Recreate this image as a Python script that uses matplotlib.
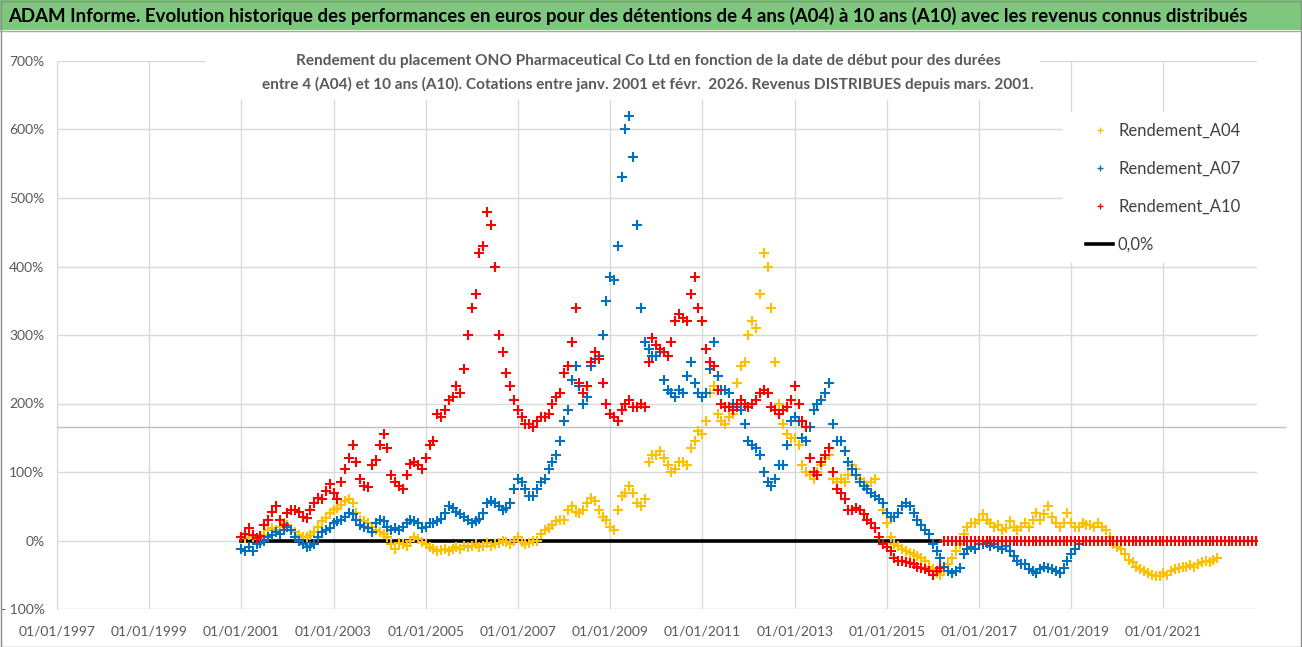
import numpy as np
import pandas as pd
import matplotlib
matplotlib.use('Agg')
import matplotlib.pyplot as plt
import matplotlib.dates as mdates
from matplotlib.lines import Line2D
from matplotlib.patches import Rectangle
from matplotlib.ticker import FuncFormatter, MultipleLocator

plt.rcParams['font.family'] = ['Lato', 'DejaVu Sans']

# monthly readings (%), first month = janv. 2001
a04 = [5, 3, 8, 5, 2, 5, 8, 15, 18, 15, 20, 25,
       22, 15, 12, 8, 5, 5, 8, 12, 20, 28, 33, 40,
       45, 48, 52, 58, 60, 55, 40, 30, 28, 25, 20, 15,
       12, 10, 5, -5, -12, -3, -5, -8, 0, 5, 2, -2,
       -5, -10, -13, -15, -14, -12, -15, -12, -10, -12, -8, -10,
       -8, -5, -10, -8, -3, -8, -5, -3, 0, -2, -5, 0,
       5, -2, -5, -3, 0, 0, 10, 15, 18, 22, 28, 30,
       30, 45, 50, 42, 40, 45, 55, 62, 58, 45, 35, 30,
       20, 15, 45, 65, 70, 80, 70, 55, 50, 60, 115, 125,
       125, 130, 120, 110, 100, 105, 115, 115, 110, 135, 145, 160,
       155, 175, 215, 225, 185, 175, 170, 180, 185, 230, 255, 260,
       300, 320, 310, 360, 420, 400, 340, 260, 200, 170, 155, 150,
       150, 140, 110, 100, 95, 90, 100, 110, 120, 125, 90, 85,
       90, 85, 95, 110, 105, 90, 85, 80, 85, 90, 60, 45,
       25, 5, -5, -8, -12, -15, -18, -20, -22, -25, -30, -38,
       -42, -48, -50, -45, -35, -25, -15, -5, 10, 20, 25, 25,
       30, 38, 30, 25, 20, 22, 15, 18, 28, 20, 15, 20,
       25, 20, 30, 40, 30, 38, 50, 35, 25, 20, 25, 40,
       25, 20, 20, 25, 22, 22, 20, 25, 20, 15, 5, -5,
       -10, -12, -20, -28, -32, -38, -42, -45, -48, -50, -52, -52,
       -48, -50, -45, -42, -40, -38, -38, -36, -38, -35, -32, -30,
       -32, -28, -25]

a07 = [-12, -15, -10, -15, -5, -3, 0, 5, 8, 12, 10, 15,
       20, 15, 5, 0, -5, -10, -8, -5, 5, 12, 15, 18,
       25, 28, 30, 35, 40, 38, 30, 22, 20, 18, 12, 25,
       30, 28, 20, 15, 18, 15, 20, 25, 30, 28, 25, 18,
       20, 25, 25, 28, 32, 40, 50, 48, 42, 38, 35, 30,
       25, 28, 32, 40, 55, 58, 55, 50, 45, 48, 55, 75,
       90, 85, 75, 65, 65, 75, 85, 90, 105, 115, 125, 145,
       175, 190, 235, 255, 225, 200, 210, 255, 265, 270, 300, 350,
       385, 380, 430, 530, 600, 620, 560, 460, 340, 290, 280, 270,
       270, 275, 235, 220, 215, 210, 220, 215, 240, 260, 230, 215,
       210, 215, 250, 290, 240, 220, 220, 215, 200, 195, 190, 170,
       145, 140, 135, 125, 100, 85, 80, 90, 110, 110, 140, 175,
       180, 175, 150, 145, 165, 190, 200, 205, 215, 230, 170, 145,
       145, 130, 115, 105, 95, 85, 80, 75, 70, 65, 60, 55,
       40, 35, 35, 40, 50, 55, 50, 40, 30, 22, 15, 10,
       -5, -15, -25, -38, -45, -48, -45, -40, -20, -12, -10, -12,
       -5, -5, -3, -8, -5, -10, -12, -8, -15, -22, -30, -35,
       -35, -42, -45, -47, -42, -38, -40, -42, -45, -48, -40, -30,
       -20, -12, -5]

a10 = [5, 10, 18, 8, 3, 6, 22, 30, 42, 50, 30, 22,
       40, 45, 45, 42, 35, 33, 45, 55, 62, 60, 72, 82,
       70, 60, 85, 105, 120, 140, 115, 90, 80, 78, 110, 118,
       140, 155, 135, 95, 85, 80, 75, 95, 112, 115, 110, 105,
       120, 140, 145, 185, 180, 190, 205, 210, 225, 215, 250, 300,
       340, 360, 420, 430, 480, 460, 400, 300, 275, 245, 225, 205,
       190, 180, 170, 170, 165, 175, 180, 180, 185, 200, 210, 215,
       245, 255, 290, 340, 230, 215, 225, 260, 275, 265, 230, 200,
       185, 180, 175, 190, 200, 205, 195, 195, 200, 195, 260, 295,
       285, 280, 275, 270, 290, 320, 330, 325, 320, 360, 385, 340,
       320, 280, 260, 255, 220, 200, 195, 195, 190, 200, 205, 200,
       195, 200, 205, 215, 220, 215, 195, 190, 185, 190, 195, 205,
       225, 200, 175, 165, 120, 100, 95, 115, 125, 135, 100, 75,
       70, 60, 45, 45, 48, 45, 38, 30, 25, 18, 5, -5,
       -10, -15, -25, -30, -30, -32, -33, -35, -38, -40, -42, -45,
       -50, -45, -40]
a10_tail = [0] * 82

d04 = pd.date_range('2001-01-01', periods=len(a04), freq='MS')
d07 = pd.date_range('2001-01-01', periods=len(a07), freq='MS')
d10 = pd.date_range('2001-01-01', periods=len(a10) + len(a10_tail), freq='MS')
zero_dates = pd.to_datetime(['2001-01-01', '2016-03-01'])
year_ticks = pd.to_datetime([f'{y}-01-01' for y in range(1997, 2022, 2)])

W, H = 1302, 647
fig = plt.figure(figsize=(W / 100, H / 100), dpi=100)
ax = fig.add_axes([57 / W, 1 - 609 / H, 1200 / W, 548 / H])

# banner
fig.patches.append(Rectangle((0, 1 - 30 / H), 1, 30 / H, transform=fig.transFigure,
                             facecolor='#7ec87e', edgecolor='none', zorder=0))
fig.add_artist(Line2D([0, 1], [1 - 30.5 / H] * 2, color='#a6a6a6', lw=1))
fig.patches.append(Rectangle((0.5 / W, 0.5 / H), 1 - 1.5 / W, 1 - 1.5 / H, transform=fig.transFigure,
                             facecolor='none', edgecolor='#8c8c8c', lw=1))
fig.text(8 / W, 1 - 16 / H,
         'ADAM Informe. Evolution historique des performances en euros pour des détentions '
         'de 4 ans (A04) à 10 ans (A10) avec les revenus connus distribués',
         ha='left', va='center', fontsize=13.4, fontweight='bold', color='black')

ax.plot(zero_dates, [0, 0], color='black', lw=2.6, zorder=2)
ax.plot(d04, a04, ls='none', marker='+', ms=7, mew=1.5, color='#FFC000', zorder=3)
ax.plot(d07, a07, ls='none', marker='+', ms=7, mew=1.5, color='#0070C0', zorder=3)
ax.plot(d10, a10 + a10_tail, ls='none', marker='+', ms=7, mew=1.5, color='#FF0000', zorder=3)

ax.set_xlim(pd.Timestamp('1997-01-01'), pd.Timestamp('2023-01-12'))
ax.set_ylim(-100, 700)
ax.set_xticks(year_ticks)
ax.xaxis.set_major_formatter(mdates.DateFormatter('%d/%m/%Y'))
ax.yaxis.set_major_locator(MultipleLocator(100))
ax.yaxis.set_major_formatter(FuncFormatter(lambda v, p: f'- {abs(v):.0f}%' if v < 0 else f'{v:.0f}%'))
ax.tick_params(length=0, labelsize=10, colors='#595959')
ax.tick_params(axis='y', pad=9)
ax.tick_params(axis='x', pad=12)
ax.set_axisbelow(True)
ax.grid(True, color='#d9d9d9', lw=1)
for s in ['top', 'right', 'bottom']:
    ax.spines[s].set_visible(False)
ax.spines['left'].set_color('#d9d9d9')
ax.axhline(166, xmin=0, xmax=1.023, color='#bfbfbf', lw=1, clip_on=False, zorder=1)

# subtitle and legend boxes
ax.add_patch(Rectangle((205 / W, 1 - 100 / H), 835 / W, 56 / H, transform=fig.transFigure,
                       facecolor='white', edgecolor='none', zorder=1.5, clip_on=False))
ax.add_patch(Rectangle((1062 / W, 1 - 263 / H), 195 / W, 151 / H, transform=fig.transFigure,
                       facecolor='white', edgecolor='none', zorder=1.5, clip_on=False))
fig.text(648 / W, 1 - 73 / H,
         'Rendement du placement ONO Pharmaceutical Co Ltd en fonction de la date de début pour des durées\n'
         'entre 4 (A04) et 10 ans (A10). Cotations entre janv. 2001 et févr.  2026. Revenus DISTRIBUES depuis mars. 2001.',
         ha='center', va='center', fontsize=11.1, fontweight='bold', color='#595959', linespacing=1.75)

handles = [Line2D([], [], ls='none', marker='+', ms=4, mew=1, color='#FFC000'),
           Line2D([], [], ls='none', marker='+', ms=4, mew=1, color='#0070C0'),
           Line2D([], [], ls='none', marker='+', ms=4, mew=1, color='#FF0000'),
           Line2D([], [], color='black', lw=2.6)]
labels = ['Rendement_A04', 'Rendement_A07', 'Rendement_A10', '0,0%']
ax.legend(handles, labels, loc='upper left', bbox_to_anchor=(1078 / W, 1 - 114 / H),
          bbox_transform=fig.transFigure, frameon=False, fontsize=12, labelcolor='#404040',
          handlelength=1.6, handletextpad=0.3, labelspacing=1.33, borderpad=0)

fig.savefig('out.png', dpi=100)
